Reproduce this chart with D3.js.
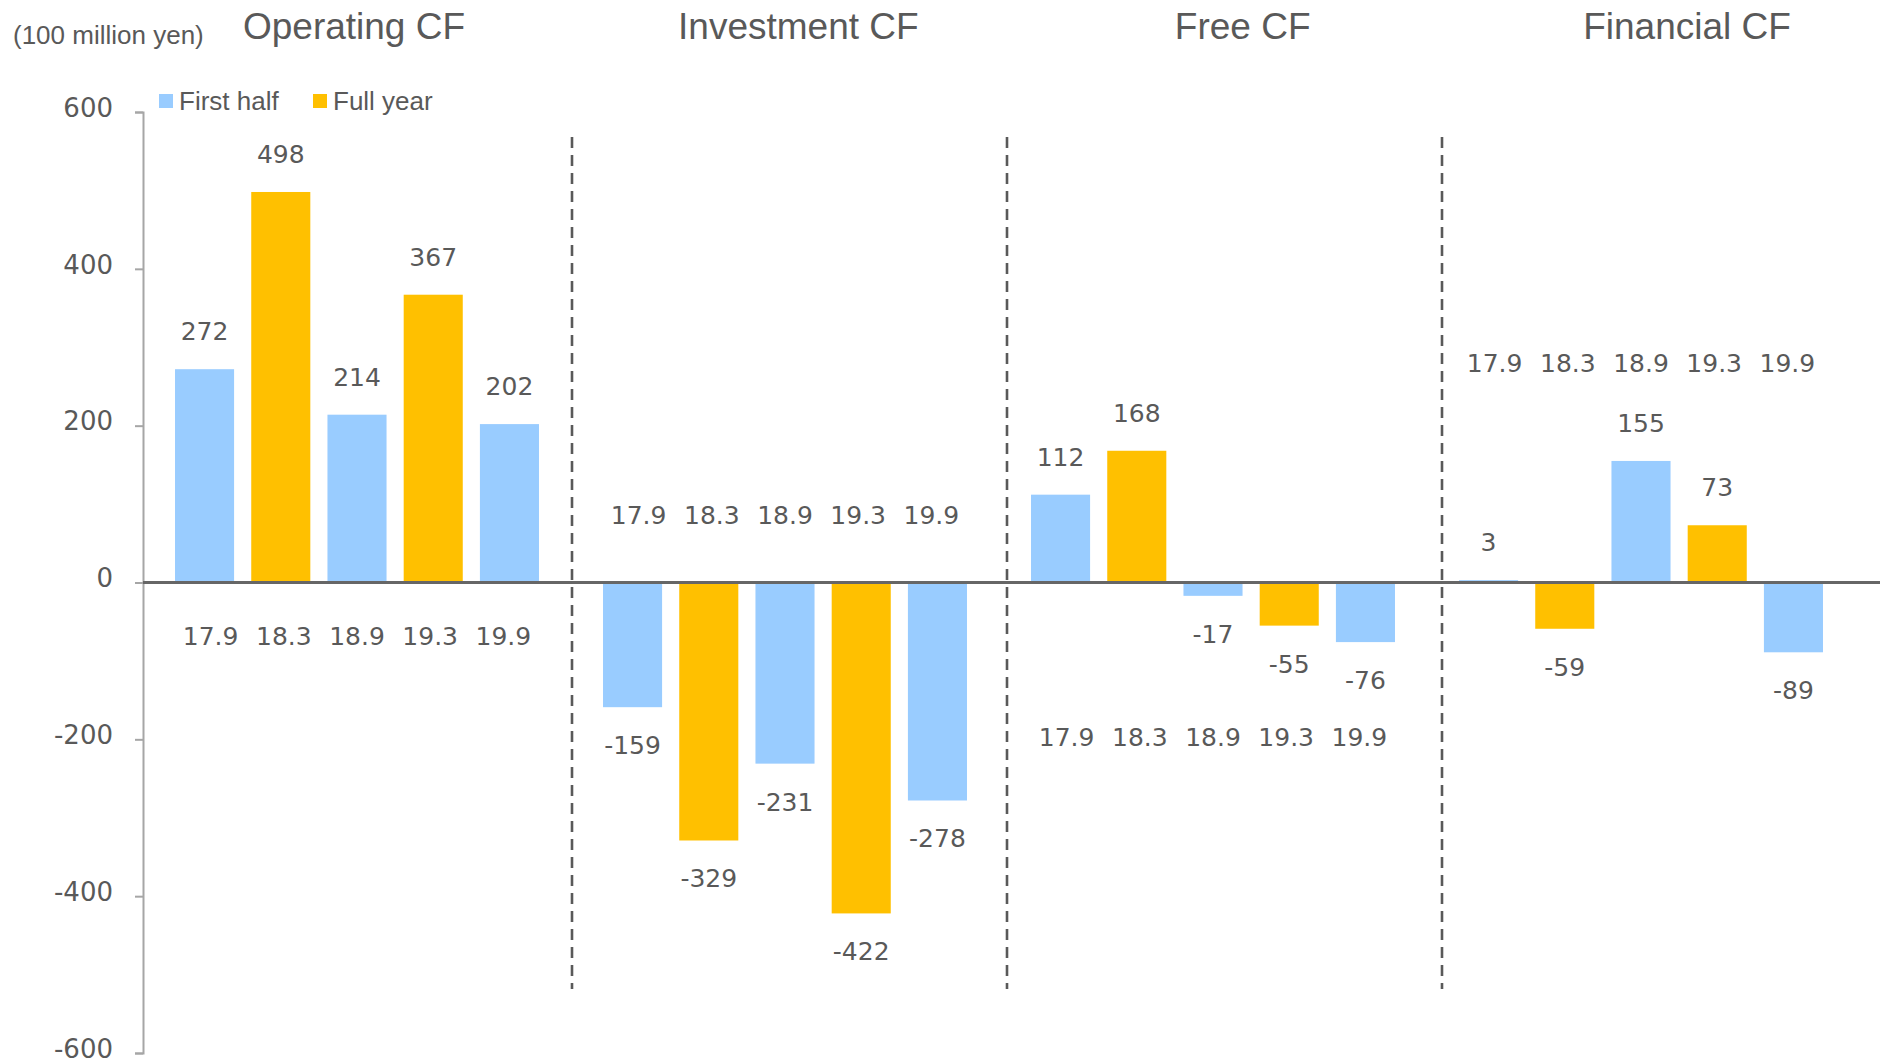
<!DOCTYPE html>
<html>
<head>
<meta charset="utf-8">
<script src="https://cdn.jsdelivr.net/npm/d3@7"></script>
<style>
  body { margin: 0; background: #fff; }
  svg { display: block; }
</style>
</head>
<body>
<svg id="chart" width="1880" height="1061"></svg>
<script>
// data
const groups = ["Operating CF", "Investment CF", "Free CF", "Financial CF"];
const periods = ["17.9", "18.3", "18.9", "19.3", "19.9"];
const periodKind = ["First half", "Full year", "First half", "Full year", "First half"];
const operatingCF = [272, 498, 214, 367, 202];
const investmentCF = [-159, -329, -231, -422, -278];
const freeCF = [112, 168, -17, -55, -76];
const financialCF = [3, -59, 155, 73, -89];
const yTicks = [-600, -400, -200, 0, 200, 400, 600];
const unitLabel = "(100 million yen)";

const seriesByGroup = [operatingCF, investmentCF, freeCF, financialCF];
const colorScale = d3.scaleOrdinal(["First half", "Full year"], ["#99CCFF", "#FFC000"]);
const textColor = "#595959";

function drawChart() {
  const svg = d3.select("#chart");

  const y = d3.scaleLinear().domain([-600, 600]).range([1053, 112]);
  const x0 = d3.scaleBand().domain(groups).range([143, 1855]);
  const x1 = d3.scaleBand().domain(periods).range([0, x0.bandwidth()])
      .paddingInner(0.225).paddingOuter(0.42);

  // flatten
  const rows = [];
  groups.forEach((g, gi) => {
    periods.forEach((p, pi) => {
      rows.push({group: g, period: p, kind: periodKind[pi], value: seriesByGroup[gi][pi]});
    });
  });

  // y axis (plain hyphen for negatives, like the original)
  const yAxis = svg.append("g")
      .attr("transform", "translate(143,0)")
      .call(d3.axisLeft(y).tickValues(yTicks).tickFormat(d => String(d))
        .tickSize(8).tickSizeOuter(8).tickPadding(22));
  yAxis.selectAll("path, line").attr("stroke", "#a6a6a6").attr("stroke-width", 2);
  yAxis.selectAll("text")
      .attr("dy", "0.16em")
      .attr("fill", textColor)
      .style("font-family", "'DejaVu Sans', Verdana, sans-serif")
      .style("font-size", "26px");

  // bars
  svg.append("g").selectAll("rect")
    .data(rows)
    .join("rect")
      .attr("x", d => x0(d.group) + x1(d.period))
      .attr("width", x1.bandwidth())
      .attr("y", d => y(Math.max(0, d.value)))
      .attr("height", d => Math.abs(y(d.value) - y(0)))
      .attr("fill", d => colorScale(d.kind));

  // zero line
  svg.append("line")
      .attr("x1", 143).attr("x2", 1880)
      .attr("y1", y(0)).attr("y2", y(0))
      .attr("stroke", "#666").attr("stroke-width", 3);

  // dashed dividers between groups
  const dividerX = d3.scalePoint().domain([1, 2, 3]).range([572, 1442]);
  svg.append("g").selectAll("line")
    .data([1, 2, 3])
    .join("line")
      .attr("x1", d => dividerX(d)).attr("x2", d => dividerX(d))
      .attr("y1", 137).attr("y2", 989)
      .attr("stroke", textColor)
      .attr("stroke-width", 2.6)
      .attr("stroke-dasharray", "11,7");

  // value labels
  svg.append("g").selectAll("text")
    .data(rows)
    .join("text")
      .attr("x", d => x0(d.group) + x1(d.period) + x1.bandwidth() / 2)
      .attr("y", d => d.value >= 0 ? y(d.value) - 38 : y(d.value) + 38)
      .attr("dy", "0.36em")
      .attr("text-anchor", "middle")
      .attr("fill", textColor)
      .style("font-family", "'DejaVu Sans', Verdana, sans-serif")
      .style("font-size", "25px")
      .text(d => d.value);

  // period labels row for each group (placed in data units)
  const yearRowAt = [-68, 86, -197, 280];
  const labelStep = x1.step() * 0.96;
  groups.forEach((g, gi) => {
    const c = x0(g) + x0.bandwidth() / 2;
    const px = d3.scalePoint().domain(periods).range([c - 2 * labelStep, c + 2 * labelStep]);
    svg.append("g").selectAll("text")
      .data(periods)
      .join("text")
        .attr("x", d => px(d))
        .attr("y", y(yearRowAt[gi]))
        .attr("dy", "0.36em")
        .attr("text-anchor", "middle")
        .attr("fill", textColor)
        .style("font-family", "'DejaVu Sans', Verdana, sans-serif")
        .style("font-size", "25px")
        .text(d => d);
  });

  // group titles
  const titleX = d3.scalePoint().domain(groups).range([354, 1687]);
  svg.append("g").selectAll("text")
    .data(groups)
    .join("text")
      .attr("x", d => titleX(d))
      .attr("y", 39)
      .attr("text-anchor", "middle")
      .attr("fill", textColor)
      .style("font-family", "'Liberation Sans', Arial, sans-serif")
      .style("font-size", "37px")
      .text(d => d);

  // unit
  svg.append("text")
      .attr("x", 13)
      .attr("y", 44)
      .attr("fill", textColor)
      .style("font-family", "'Liberation Sans', Arial, sans-serif")
      .style("font-size", "26px")
      .text(unitLabel);

  // legend
  const legendItems = colorScale.domain();
  const legend = svg.append("g").selectAll("g")
    .data(legendItems)
    .join("g")
      .attr("transform", (d, i) => `translate(${159 + i * 154},94)`);
  legend.append("rect")
      .attr("width", 14).attr("height", 14)
      .attr("fill", d => colorScale(d));
  legend.append("text")
      .attr("x", 20)
      .attr("y", 16)
      .attr("fill", textColor)
      .style("font-family", "'Liberation Sans', Arial, sans-serif")
      .style("font-size", "26px")
      .text(d => d);
}

drawChart();
</script>
</body>
</html>
